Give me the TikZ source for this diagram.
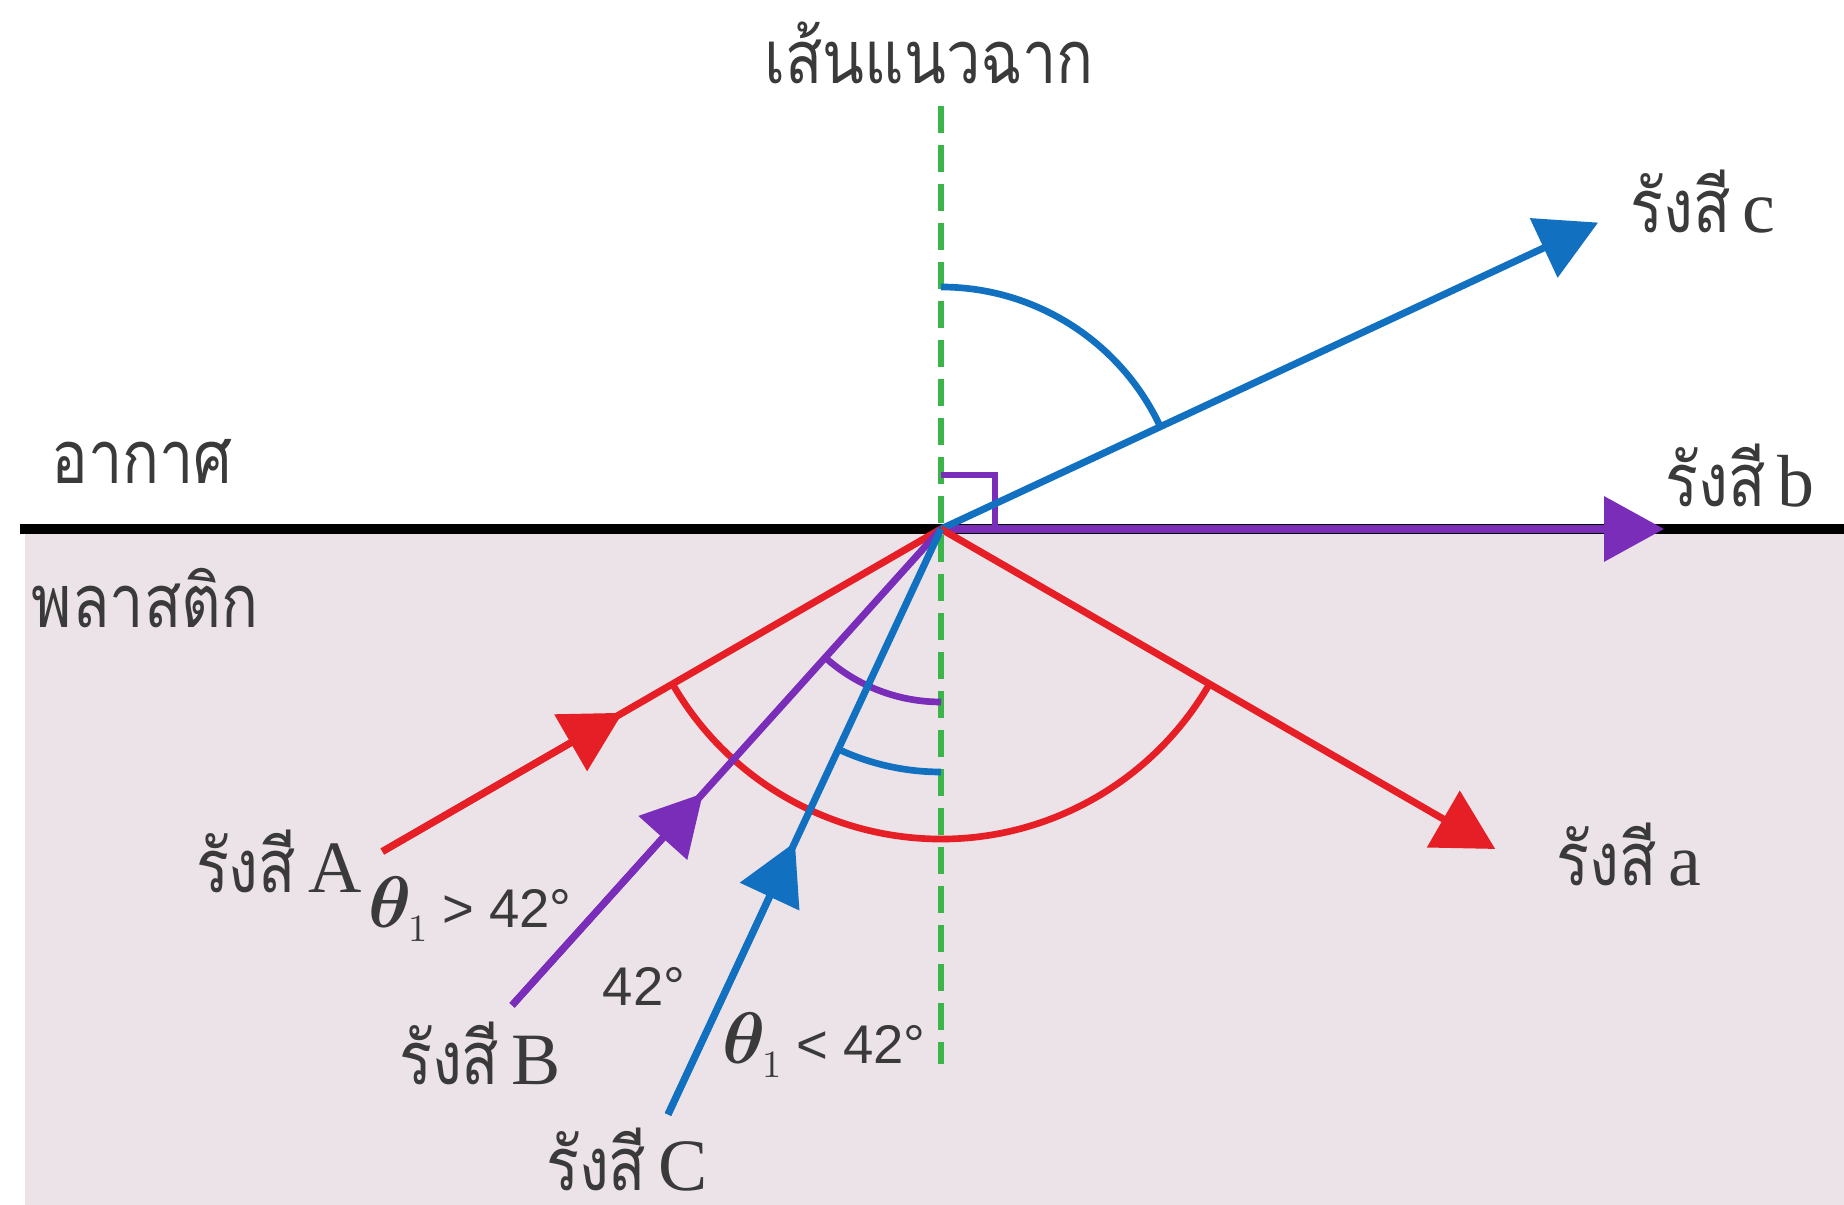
\documentclass[tikz,border=0pt]{standalone}
\usepackage{amsmath}
\usepackage{fontspec}
\newfontfamily\thaifont[Script=Thai,FakeStretch=0.83]{Loma}
\newfontfamily\latserif{Liberation Serif}
\newfontfamily\latsans{Liberation Sans}
\usetikzlibrary{arrows.meta,calc}
\definecolor{rred}{HTML}{E61E25}
\definecolor{rpurple}{HTML}{7A2DB8}
\definecolor{rblue}{HTML}{1170BF}
\definecolor{rgreen}{HTML}{3BB54A}
\definecolor{plastic}{HTML}{ECE3E8}
\definecolor{txt}{HTML}{3A3A3A}
\newcommand{\raylbl}[1]{{\thaifont รังสี}\,{\latserif #1}}
\newcommand{\thetaone}{{\fontsize{22}{24}\selectfont$\boldsymbol{\theta}$}\kern-1pt{\fontsize{11}{12}\selectfont\raisebox{-4pt}{$1$}}}
\tikzset{
  raystyle/.style={line width=2pt},
  arcstyle/.style={line width=1.9pt},
  tip/.style={-{Triangle[length=0.6cm,width=0.64cm]}},
  lbl/.style={text=txt, inner sep=0pt, font=\fontsize{21}{25}\selectfont},
  numlbl/.style={text=txt, inner sep=0pt, font=\fontsize{15.5}{18}\selectfont\latsans},
}
\begin{document}
\begin{tikzpicture}
\useasboundingbox (0,0) rectangle (18.44,-12.05);
\fill[white] (0,0) rectangle (18.44,-12.05);
\fill[plastic] (0.25,-5.29) rectangle (18.44,-12.05);

\coordinate (O) at (9.41,-5.29);
\coordinate (Lend) at (0.2,-5.29);
\coordinate (Rend) at (18.44,-5.29);
\coordinate (Ntop) at (9.41,-1.06);
\coordinate (Nbot) at (9.41,-10.64);
\coordinate (A) at ($(O)+(210:6.45)$);
\coordinate (B) at ($(O)+(228:6.41)$);
\coordinate (C) at ($(O)+(245:6.46)$);
\coordinate (a) at ($(O)+(-30:6.40)$);
\coordinate (b) at ($(O)+(0:7.23)$);
\coordinate (c) at ($(O)+(25:7.25)$);

% surface
\draw[line width=2.9pt, black] (Lend) -- (Rend);
% normal
\draw[rgreen, line width=1.8pt, dash pattern=on 0.27cm off 0.12cm] (Ntop) -- (Nbot);

% arcs
\draw[arcstyle, rred] ($(O)+(210:3.1)$) arc[start angle=210, end angle=330, radius=3.1];
\draw[arcstyle, rpurple] ($(O)+(228:1.73)$) arc[start angle=228, end angle=270, radius=1.73];
\draw[arcstyle, rblue] ($(O)+(245:2.43)$) arc[start angle=245, end angle=270, radius=2.43];
\draw[arcstyle, rblue] ($(O)+(90:2.42)$) arc[start angle=90, end angle=25, radius=2.42];
% right angle
\draw[arcstyle, rpurple] ($(O)+(0,0.54)$) -- ($(O)+(0.54,0.54)$) -- ($(O)+(0.54,0)$);

% rays
\draw[raystyle, rpurple, tip] (O) -- (b);
\draw[raystyle, rblue, tip] (O) -- (c);
\draw[raystyle, rred, tip] (O) -- (a);
\draw[raystyle, rred] (A) -- (O);
\draw[raystyle, rred, tip] (A) -- ($(A)!0.43!(O)$);
\draw[raystyle, rpurple] (B) -- (O);
\draw[raystyle, rpurple, tip] (B) -- ($(B)!0.445!(O)$);
\draw[raystyle, rblue] (C) -- (O);
\draw[raystyle, rblue, tip] (C) -- ($(C)!0.465!(O)$);

% labels
\node[lbl] (tnormal) at (9.29,-0.53) {\thaifont เส้นแนวฉาก};
\node[lbl] (tair) at (1.42,-4.61) {\thaifont อากาศ};
\node[lbl] (tplastic) at (1.45,-5.98) {\thaifont พลาสติก};
\node[lbl] (lc) at (17.03,-2.02) {\raylbl{c}};
\node[lbl] (lb) at (17.40,-4.76) {\raylbl{b}};
\node[lbl] (la) at (16.29,-8.55) {\raylbl{a}};
\node[lbl] (lA) at (2.79,-8.61) {\raylbl{A}};
\node[lbl] (lB) at (4.80,-10.53) {\raylbl{B}};
\node[lbl] (lC) at (6.27,-11.60) {\raylbl{C}};
\node[numlbl] (g1) at (4.70,-9.09) {\thetaone\ > 42°};
\node[numlbl] (g2) at (6.44,-9.86) {42°};
\node[numlbl] (g3) at (8.24,-10.45) {\thetaone\ < 42°};
\end{tikzpicture}
\end{document}
